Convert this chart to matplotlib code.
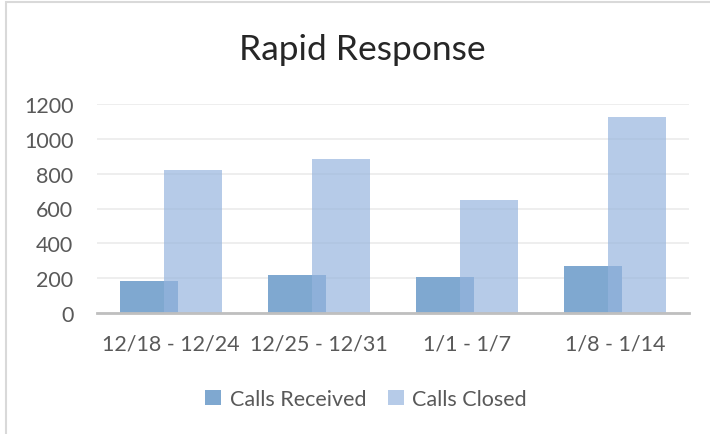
import numpy as np
import matplotlib
matplotlib.use('Agg')
from matplotlib import pyplot as plt
from matplotlib.patches import Rectangle

# данные с картинки
weeks = ['12/18 - 12/24', '12/25 - 12/31', '1/1 - 1/7', '1/8 - 1/14']
calls_received = [183, 219, 205, 272]
calls_closed = [822, 884, 648, 1126]
y_ticks = [0, 200, 400, 600, 800, 1000, 1200]

plt.rcParams['font.family'] = ['Lato', 'DejaVu Sans']

fig = plt.figure(figsize=(7.1, 4.35), dpi=100)
ax = fig.add_axes([97 / 710, 1 - 314 / 435, (689 - 97) / 710, (314 - 105) / 435])

x = np.arange(len(weeks))
width = 0.39
off = 0.147

ax.bar(x - off, calls_received, width, color='#7FA8D0', zorder=2,
       label='Calls Received')
ax.bar(x + off, calls_closed, width, color='#96B4DE', alpha=0.69, zorder=3,
       label='Calls Closed')

ax.set_xlim(-0.5, len(weeks) - 0.5)
ax.set_ylim(0, 1200)
ax.set_yticks(y_ticks)
ax.set_xticks(x)
ax.set_xticklabels(weeks)
ax.tick_params(axis='both', length=0, colors='#595959', labelsize=15.5)
ax.tick_params(axis='y', pad=17)
ax.tick_params(axis='x', pad=15)
ax.grid(axis='y', color='#EBEBEB', linewidth=1.2, zorder=0)
for side in ['top', 'right', 'left']:
    ax.spines[side].set_visible(False)
ax.spines['bottom'].set_color('#BFBFBF')
ax.spines['bottom'].set_linewidth(2)
ax.spines['bottom'].set_zorder(4)

fig.text(362 / 710, 1 - 50 / 435, 'Rapid Response', ha='center', va='center',
         fontsize=25.5, color='#262626')

leg = fig.legend(loc='center', bbox_to_anchor=(366 / 710, 1 - 400 / 435), ncol=2,
                 frameon=False, fontsize=15.5, handlelength=0.75, handleheight=0.75,
                 columnspacing=1.0, handletextpad=0.4)
for t in leg.get_texts():
    t.set_color('#595959')

# рамка графика (видна сверху и слева)
fig.patches.append(Rectangle((6 / 710, -0.1), 1.2, 1 - 2.5 / 435 + 0.1,
                             transform=fig.transFigure, fill=False,
                             edgecolor='#D9D9D9', linewidth=1.5))

fig.savefig('out.png', dpi=100, facecolor='white')
